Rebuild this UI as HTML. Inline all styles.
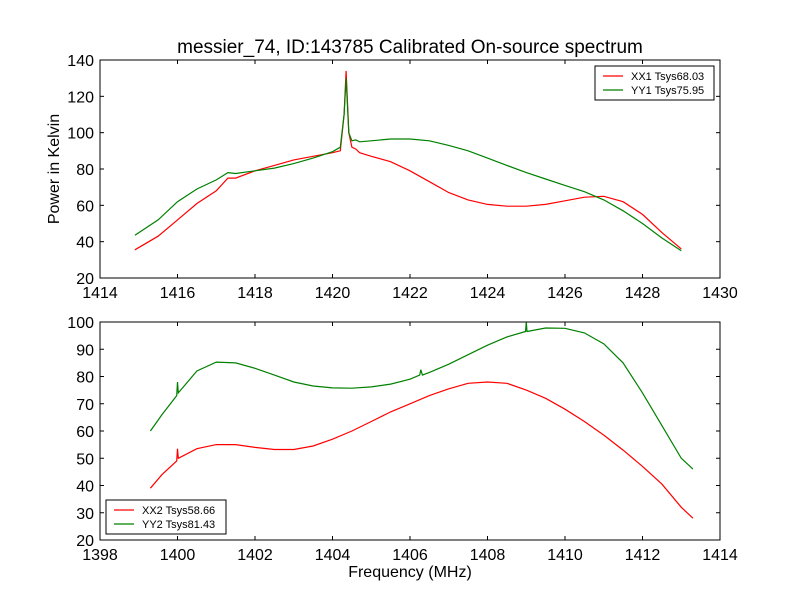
<!DOCTYPE html>
<html><head><meta charset="utf-8"><style>
body{margin:0;background:#fff}svg{display:block;font-family:"Liberation Sans","DejaVu Sans",sans-serif}
</style></head><body>
<svg id="c" width="800" height="600"></svg>
<script>
const topXTicks=[1414,1416,1418,1420,1422,1424,1426,1428,1430];
const topYTicks=[20,40,60,80,100,120,140];
const botXTicks=[1398,1400,1402,1404,1406,1408,1410,1412,1414];
const botYTicks=[20,30,40,50,60,70,80,90,100];
const xx1F=[1414.9,1415.5,1416,1416.5,1417,1417.3,1417.5,1418,1418.5,1419,1419.5,1420,1420.2,1420.3,1420.35,1420.42,1420.5,1420.6,1420.7,1421,1421.5,1422,1422.5,1423,1423.5,1424,1424.5,1425,1425.5,1426,1426.5,1427,1427.5,1428,1428.5,1429];
const xx1V=[35.5,43,52,61,68,75,75,79,82,85,87,89,90,110,134,100,92,91,89,87,84,79,73,67,63,60.5,59.5,59.5,60.5,62.5,64.5,65,62,55,45,36];
const yy1F=[1414.9,1415.5,1416,1416.5,1417,1417.3,1417.5,1418,1418.5,1419,1419.5,1420,1420.2,1420.3,1420.35,1420.42,1420.5,1420.6,1420.7,1421,1421.5,1422,1422.5,1423,1423.5,1424,1424.5,1425,1425.5,1426,1426.5,1427,1427.5,1428,1428.5,1429];
const yy1V=[43.5,52,62,69,74,78,77.5,79,80.5,83,86,89.5,92,110,130,100,95.5,96,95,95.5,96.5,96.5,95.5,93,90,86,82,78,74.5,71,67.5,63,57,50,42,35];
const xx2F=[1399.3,1399.6,1399.98,1400,1400.02,1400.5,1401,1401.5,1402,1402.5,1403,1403.5,1404,1404.5,1405,1405.5,1406,1406.5,1407,1407.5,1408,1408.5,1409,1409.5,1410,1410.5,1411,1411.5,1412,1412.5,1413,1413.3];
const xx2V=[39,44,49,53.5,50,53.5,55,55,54,53.2,53.2,54.5,57,60,63.5,67,70,73,75.5,77.5,78,77.5,75,72,68,63.5,58.5,53,47,40.5,32,28];
const yy2F=[1399.3,1399.6,1399.98,1400,1400.02,1400.5,1401,1401.5,1402,1402.5,1403,1403.5,1404,1404.5,1405,1405.5,1406,1406.25,1406.28,1406.32,1406.5,1407,1407.5,1408,1408.5,1408.98,1409,1409.02,1409.5,1410,1410.5,1411,1411.5,1412,1412.5,1413,1413.3];
const yy2V=[60,66,73,78,74,82,85.3,85,83,80.5,78,76.5,75.8,75.7,76.2,77.2,79,80.5,82.5,80.5,81.5,84.5,88,91.5,94.5,96.5,100,96.5,97.8,97.7,96,92,85,74,62,50,46];
const NS="http://www.w3.org/2000/svg",svg=document.getElementById('c');
function el(t,a,p){const e=document.createElementNS(NS,t);for(const k in a)e.setAttribute(k,a[k]);(p||svg).appendChild(e);return e;}
function axes(name,L,R,T,B,x0,x1,y0,y1,xt,yt){
 const g=el('g',{});
 
 
 const sx=v=>L+(v-x0)/(x1-x0)*(R-L), sy=v=>B-(v-y0)/(y1-y0)*(B-T);
 xt.forEach(v=>{const x=sx(v);el('line',{x1:x,x2:x,y1:B,y2:B-4,stroke:'#000'},g);el('line',{x1:x,x2:x,y1:T,y2:T+4,stroke:'#000'},g);
  const t=el('text',{x:x,y:B+20,'text-anchor':'middle','font-size':16},g);t.textContent=v;});
 yt.forEach(v=>{const y=sy(v);el('line',{x1:L,x2:L+4,y1:y,y2:y,stroke:'#000'},g);el('line',{x1:R,x2:R-4,y1:y,y2:y,stroke:'#000'},g);
  const t=el('text',{x:L-6,y:y+6,'text-anchor':'end','font-size':16},g);t.textContent=v;});
 return {g,sx,sy,frame:()=>el('rect',{x:L,y:T,width:R-L,height:B-T,fill:'none',stroke:'#000'},g)};
}
function line(ax,F,V,col,name){const p=el('polyline',{points:F.map((f,i)=>ax.sx(f).toFixed(1)+','+ax.sy(V[i]).toFixed(1)).join(' '),fill:'none',stroke:col,'stroke-width':1.2},ax.g);
 }
const a1=axes('top-axes',100,720,60,278,1414,1430,20,140,topXTicks,topYTicks);
line(a1,xx1F,xx1V,'#f00','xx1-series');line(a1,yy1F,yy1V,'#008000','yy1-series');a1.frame();
const a2=axes('bottom-axes',100,720,322,540,1398,1414,20,100,botXTicks,botYTicks);
line(a2,xx2F,xx2V,'#f00','xx2-series');line(a2,yy2F,yy2V,'#008000','yy2-series');a2.frame();
function legend(x,y,w,items,name){const g=el('g',{});
 el('rect',{x:x,y:y,width:w,height:34,fill:'#fff',stroke:'#000'},g);
 items.forEach((it,i)=>{const yy=y+10+i*14;el('line',{x1:x+8,x2:x+28,y1:yy,y2:yy,stroke:it[1],'stroke-width':1.2},g);
  const t=el('text',{x:x+36,y:yy+4,'font-size':11},g);t.textContent=it[0];});}
legend(595,66,119,[['XX1 Tsys68.03','#f00'],['YY1 Tsys75.95','#008000']],'top-legend');
legend(106,500,120,[['XX2 Tsys58.66','#f00'],['YY2 Tsys81.43','#008000']],'bottom-legend');
let t=el('text',{x:410,y:53,'text-anchor':'middle','font-size':19});t.textContent='messier_74, ID:143785 Calibrated On-source spectrum';
t=el('text',{x:410,y:577,'text-anchor':'middle','font-size':16});t.textContent='Frequency (MHz)';
t=el('text',{x:59,y:169,'text-anchor':'middle','font-size':16,transform:'rotate(-90 59 169)'});t.textContent='Power in Kelvin';
</script>
</body></html>
